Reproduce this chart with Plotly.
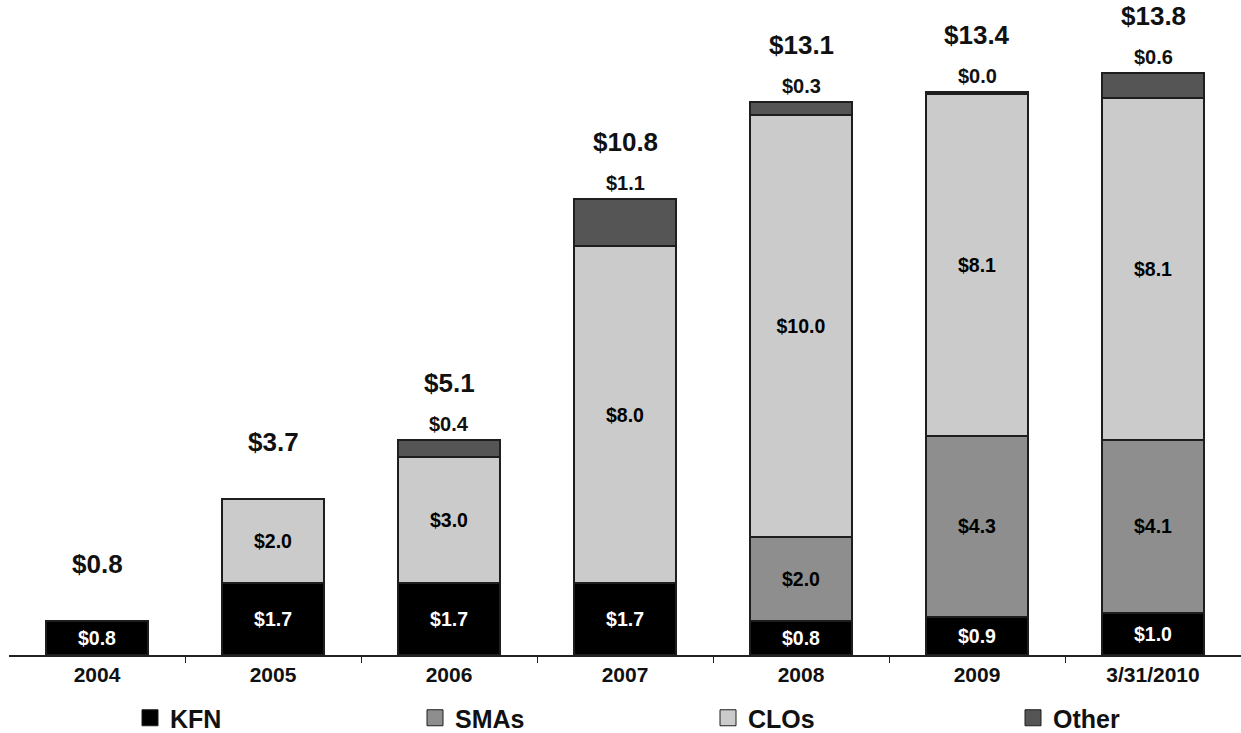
import plotly.graph_objects as go

categories = ["2004", "2005", "2006", "2007", "2008", "2009", "3/31/2010"]
kfn = [0.8, 1.7, 1.7, 1.7, 0.8, 0.9, 1.0]
smas = [0, 0, 0, 0, 2.0, 4.3, 4.1]
clos = [0, 2.0, 3.0, 8.0, 10.0, 8.1, 8.1]
other = [0, 0, 0.4, 1.1, 0.3, 0.04, 0.6]
totals = [0.8, 3.7, 5.1, 10.8, 13.1, 13.4, 13.8]

FONT = "Liberation Sans, Arial, sans-serif"
OUTLINE = "#1e1e1e"
xpos = list(range(len(categories)))
L, PW, PH = 9, 1232, 655

def lab(vals):
    return [f"<b>${v:.1f}</b>" if v >= 0.5 else "" for v in vals]

fig = go.Figure()
series = [
    ("KFN", kfn, "#000000", "white", 130),
    ("SMAs", smas, "#8e8e8e", "black", 415),
    ("CLOs", clos, "#cbcbcb", "black", 708),
    ("Other", other, "#555555", "black", 1013),
]
legends = {}
for i, (name, vals, color, tcolor, lx) in enumerate(series):
    lg = "legend" if i == 0 else f"legend{i + 1}"
    fig.add_trace(go.Bar(
        x=xpos, y=[float(v) for v in vals], name=name, showlegend=False,
        marker=dict(color=color, line=dict(color=OUTLINE, width=2)),
        text=lab(vals) if name != "Other" else None,
        textposition="inside", insidetextanchor="middle",
        textfont=dict(family=FONT, size=19.5, color=tcolor),
        hoverinfo="skip",
    ))
    # legend entry (square swatch)
    fig.add_trace(go.Scatter(
        x=[None], y=[None], mode="markers", name=f"<b>{name}</b>",
        marker=dict(symbol="square", size=16, color=color,
                    line=dict(color=OUTLINE, width=1)),
        legend=lg, showlegend=True, hoverinfo="skip",
    ))
    legends[lg] = dict(orientation="h", x=(lx - L) / PW, xanchor="left",
                       y=-(718 - 655) / PH, yanchor="middle",
                       font=dict(family=FONT, size=25, color="#111"),
                       itemclick=False, itemdoubleclick=False,
                       bgcolor="rgba(0,0,0,0)")

stack_top = [k + s + c + o for k, s, c, o in zip(kfn, smas, clos, other)]
annotations = []
for xi, top, o, t in zip(xpos, stack_top, other, totals):
    if o > 0:
        annotations.append(dict(x=xi, y=top, text=f"<b>${o:.1f}</b>", showarrow=False,
                                yshift=16, yanchor="middle",
                                font=dict(family=FONT, size=20, color="#111")))
    annotations.append(dict(x=xi, y=top, text=f"<b>${t:.1f}</b>", showarrow=False,
                            yshift=57, yanchor="middle",
                            font=dict(family=FONT, size=26, color="#111")))

fig.update_layout(
    barmode="stack", bargap=0.425,
    width=1241, height=733,
    margin=dict(l=L, r=0, t=0, b=78, autoexpand=False),
    plot_bgcolor="white", paper_bgcolor="white",
    annotations=annotations,
    showlegend=True,
    font=dict(family=FONT),
    **legends,
)
fig.update_xaxes(range=[-0.5, len(categories) - 0.5],
                 showline=True, linecolor="#222", linewidth=1.5,
                 tickmode="array", tickvals=xpos,
                 ticktext=[f"<b>{c}</b>" for c in categories],
                 ticks="", showgrid=False, zeroline=False,
                 tickfont=dict(family=FONT, size=21, color="#111"),
                 minor=dict(tickmode="array",
                            tickvals=[i + 0.5 for i in xpos[:-1]],
                            ticks="outside", ticklen=6, tickcolor="#222",
                            showgrid=False))
fig.update_yaxes(range=[0, 15.53], visible=False, showgrid=False, zeroline=False)

fig.write_html("out.html", config={"displayModeBar": False},
               post_script="document.body.style.margin='0';")
